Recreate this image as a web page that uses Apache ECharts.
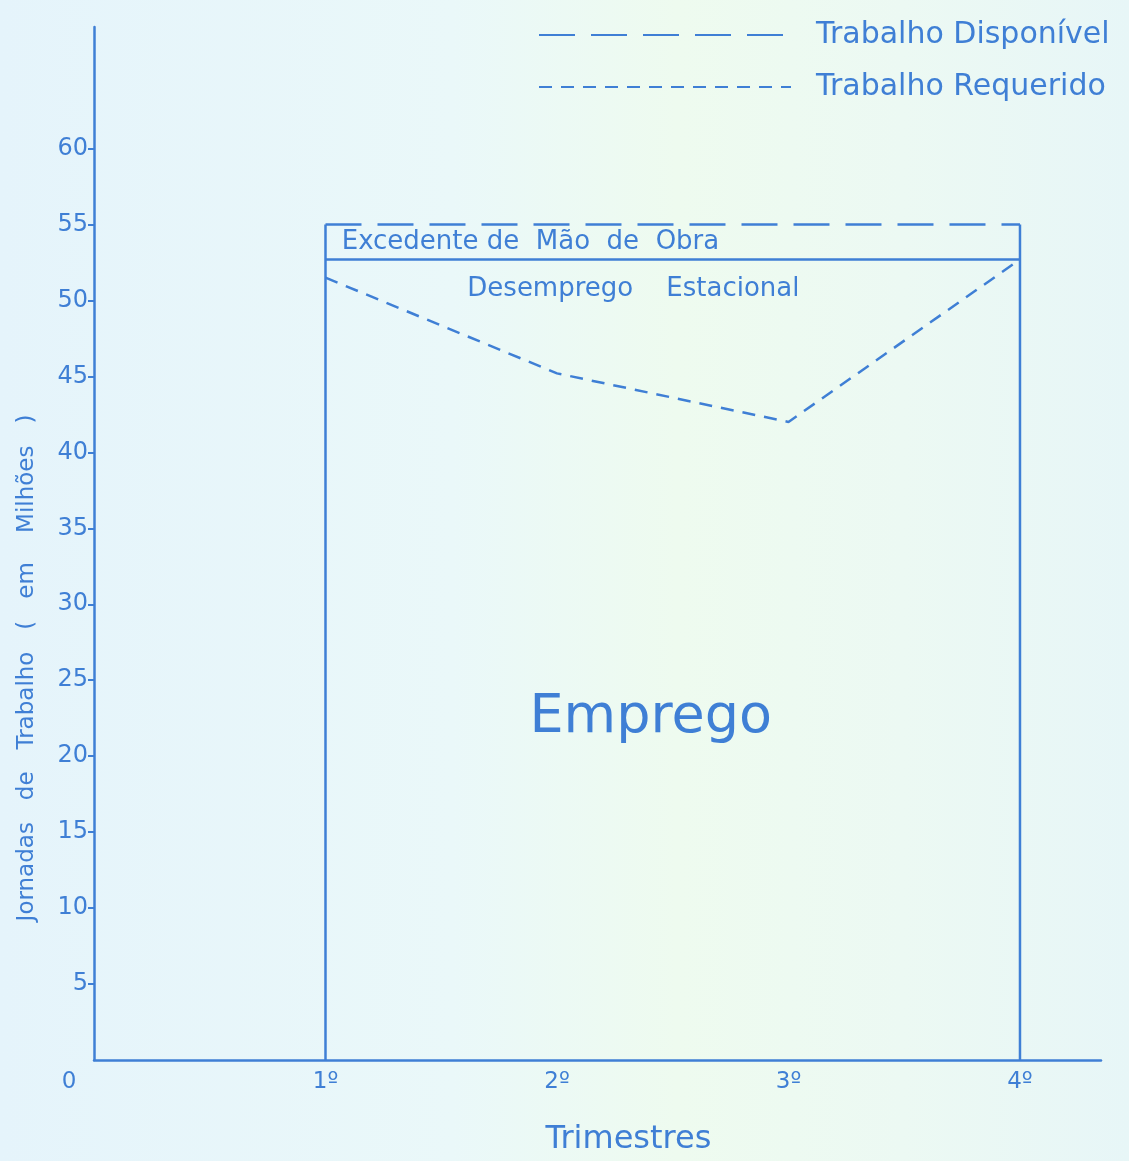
<!DOCTYPE html>
<html>
<head>
<meta charset="utf-8">
<script src="https://cdn.jsdelivr.net/npm/echarts@6/dist/echarts.min.js"></script>
<style>
html,body{margin:0;padding:0;}
#chart{width:1129px;height:1161px;}
</style>
</head>
<body>
<div id="chart"></div>
<script>
// ---- data ----
const quarters = [1, 2, 3, 4];
const quarterLabels = ['0', '1º', '2º', '3º', '4º'];
const xTickValues = [0, 1, 2, 3, 4];
const yTickValues = [5, 10, 15, 20, 25, 30, 35, 40, 45, 50, 55, 60];
const trabalhoDisponivel = [55, 55, 55, 55];
const trabalhoRequerido = [51.5, 45.2, 42.0, 52.7];
const limiteEmprego = [52.7, 52.7, 52.7, 52.7];
const annotations = [
  { x: 1.07, y: 53.8, text: 'Excedente de  Mão  de  Obra', kind: 'left' },
  { x: 2.33, y: 50.75, text: 'Desemprego    Estacional', kind: 'center' },
  { x: 2.405, y: 22.5, text: 'Emprego', kind: 'big' }
];

// ---- style ----
const BLUE = '#3f7fd5';
const FONT = '"DejaVu Sans", "Open Sans", sans-serif';

const chart = echarts.init(document.getElementById('chart'));

const pairs = (xs, ys) => xs.map((x, i) => [x, ys[i]]);

const labelFor = a => {
  const base = { show: true, formatter: a.text, color: BLUE, fontFamily: FONT, opacity: 1 };
  if (a.kind === 'left') return Object.assign(base, { position: 'right', distance: 0, fontSize: 26 });
  if (a.kind === 'center') return Object.assign(base, { position: 'inside', fontSize: 26 });
  return Object.assign(base, { position: 'inside', fontSize: 54 });
};

const option = {
  backgroundColor: {
    type: 'linear', x: 0, y: 0, x2: 1, y2: 0,
    colorStops: [
      { offset: 0, color: '#e5f4fb' },
      { offset: 0.4, color: '#eaf8f9' },
      { offset: 0.6, color: '#eefbef' },
      { offset: 0.8, color: '#ecf9f3' },
      { offset: 1, color: '#e7f6f7' }
    ]
  },
  animation: false,
  textStyle: { fontFamily: FONT, color: BLUE },
  grid: { left: 94, right: 28, top: 27, bottom: 98, containLabel: false },
  legend: {
    data: ['Trabalho Disponível', 'Trabalho Requerido'],
    orient: 'vertical',
    left: 533,
    top: 12,
    itemWidth: 252,
    itemHeight: 36,
    itemGap: 16,
    selectedMode: false,
    itemStyle: { color: 'rgba(0,0,0,0)', borderWidth: 0, opacity: 0 },
    textStyle: { fontFamily: FONT, fontSize: 30, lineHeight: 36, color: BLUE, padding: [0, 0, 0, 20] }
  },
  xAxis: {
    type: 'value',
    min: 0,
    max: 4.35,
    interval: 1,
    name: 'Trimestres',
    nameLocation: 'middle',
    nameGap: 64,
    nameTextStyle: { fontFamily: FONT, fontSize: 32, color: BLUE, padding: [0, 0, 0, 62] },
    axisLine: { show: true, lineStyle: { color: BLUE, width: 2.5 } },
    axisTick: { show: false },
    splitLine: { show: false },
    axisLabel: {
      customValues: xTickValues,
      margin: 11,
      fontSize: 23,
      color: BLUE,
      fontFamily: FONT,
      formatter: v => (v === 0 ? '{z|' + quarterLabels[0] + '}' : (quarterLabels[v] || '')),
      rich: { z: { fontSize: 23, color: BLUE, fontFamily: FONT, padding: [0, 50, 0, 0] } }
    }
  },
  yAxis: {
    type: 'value',
    min: 0,
    max: 68,
    interval: 5,
    axisLine: { show: true, lineStyle: { color: BLUE, width: 2.5 } },
    axisTick: { show: true, customValues: yTickValues, length: 6, inside: false, lineStyle: { color: BLUE, width: 2 } },
    splitLine: { show: false },
    axisLabel: {
      customValues: yTickValues,
      margin: 6,
      fontSize: 24,
      color: BLUE,
      fontFamily: FONT,
      formatter: v => (yTickValues.indexOf(v) >= 0 ? String(v) : '')
    }
  },
  graphic: [
    {
      type: 'text',
      x: 27, y: 668,
      rotation: Math.PI / 2,
      style: {
        text: 'Jornadas   de   Trabalho   (   em    Milhões   )',
        font: '23px ' + FONT,
        fill: BLUE,
        textAlign: 'center',
        textVerticalAlign: 'middle'
      }
    }
  ],
  series: [
    {
      name: 'Trabalho Disponível',
      type: 'line',
      symbol: 'none',
      data: pairs(quarters, trabalhoDisponivel),
      lineStyle: { color: BLUE, width: 2.5, type: [36, 16] },
      itemStyle: { color: BLUE },
      z: 3
    },
    {
      name: 'Trabalho Requerido',
      type: 'line',
      symbol: 'none',
      data: pairs(quarters, trabalhoRequerido),
      lineStyle: { color: BLUE, width: 2.5, type: [13, 9] },
      itemStyle: { color: BLUE },
      z: 3
    },
    {
      name: 'Limite',
      type: 'line',
      symbol: 'none',
      data: pairs(quarters, limiteEmprego),
      lineStyle: { color: BLUE, width: 2.5, type: 'solid' },
      z: 3
    },
    {
      name: 'Borda inicial',
      type: 'line',
      symbol: 'none',
      data: [[quarters[0], 0], [quarters[0], trabalhoDisponivel[0]]],
      lineStyle: { color: BLUE, width: 2.5 },
      z: 3
    },
    {
      name: 'Borda final',
      type: 'line',
      symbol: 'none',
      data: [[quarters[3], 0], [quarters[3], trabalhoDisponivel[3]]],
      lineStyle: { color: BLUE, width: 2.5 },
      z: 3
    },
    {
      name: 'Rótulos',
      type: 'scatter',
      symbolSize: 0,
      silent: true,
      itemStyle: { opacity: 1 },
      data: annotations.map(a => ({ value: [a.x, a.y], label: labelFor(a) })),
      z: 4
    }
  ]
};

chart.setOption(option);
</script>
</body>
</html>
